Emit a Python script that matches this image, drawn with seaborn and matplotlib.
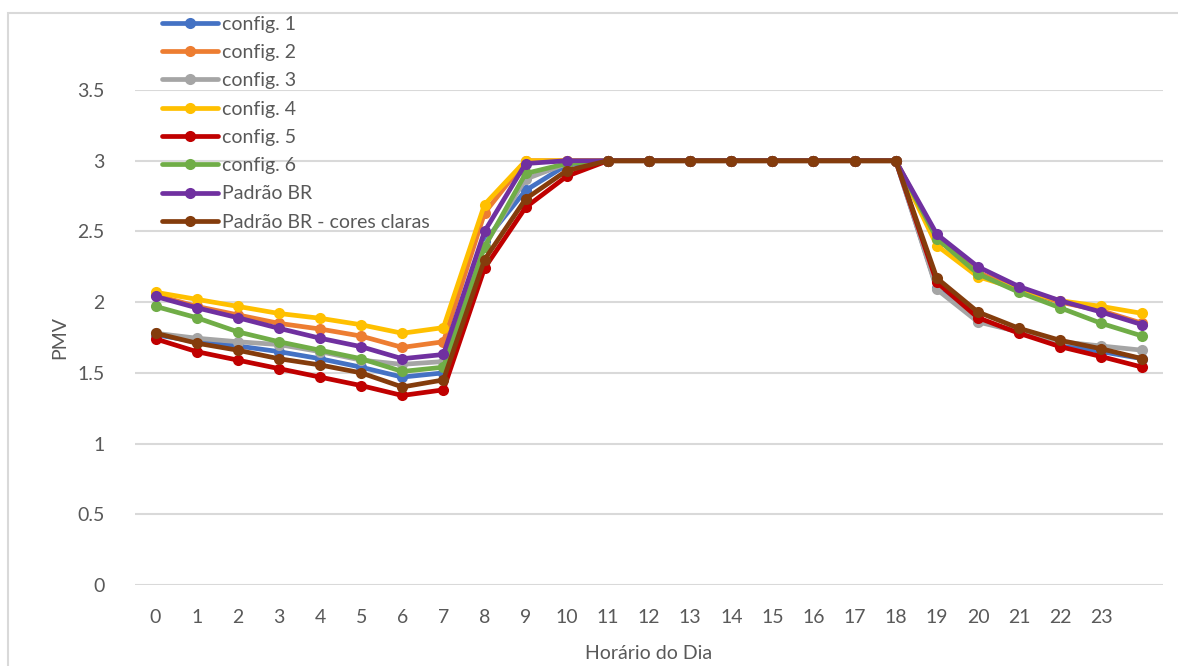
import matplotlib
matplotlib.use("Agg")
import matplotlib.pyplot as plt
from matplotlib.patches import Rectangle
from matplotlib.lines import Line2D
import seaborn as sns
import pandas as pd

hours = list(range(25))
tick_labels = [str(h) for h in range(24)] + [""]

series_names = ["config. 1", "config. 2", "config. 3", "config. 4", "config. 5",
                "config. 6", "Padrão BR", "Padrão BR - cores claras"]
colors = ["#4472C4", "#ED7D31", "#A5A5A5", "#FFC000", "#C00000",
          "#70AD47", "#7030A0", "#843C0C"]

config1 = [1.77, 1.72, 1.69, 1.65, 1.60, 1.54, 1.47, 1.50, 2.43, 2.79, 2.97, 3.0, 3.0, 3.0,
           3.0, 3.0, 3.0, 3.0, 3.0, 2.10, 1.87, 1.79, 1.70, 1.65, 1.60]
config2 = [2.05, 1.97, 1.91, 1.85, 1.81, 1.76, 1.68, 1.72, 2.63, 3.0, 3.0, 3.0, 3.0, 3.0,
           3.0, 3.0, 3.0, 3.0, 3.0, 2.45, 2.21, 2.09, 2.00, 1.94, 1.85]
config3 = [1.78, 1.745, 1.72, 1.70, 1.65, 1.59, 1.56, 1.58, 2.40, 2.87, 2.98, 3.0, 3.0, 3.0,
           3.0, 3.0, 3.0, 3.0, 3.0, 2.09, 1.86, 1.79, 1.72, 1.69, 1.66]
config4 = [2.07, 2.02, 1.97, 1.92, 1.886, 1.84, 1.78, 1.82, 2.69, 3.0, 3.0, 3.0, 3.0, 3.0,
           3.0, 3.0, 3.0, 3.0, 3.0, 2.40, 2.18, 2.09, 2.01, 1.97, 1.92]
config5 = [1.74, 1.65, 1.59, 1.53, 1.47, 1.41, 1.34, 1.38, 2.24, 2.67, 2.89, 3.0, 3.0, 3.0,
           3.0, 3.0, 3.0, 3.0, 3.0, 2.14, 1.89, 1.78, 1.685, 1.615, 1.54]
config6 = [1.97, 1.89, 1.79, 1.72, 1.66, 1.60, 1.51, 1.54, 2.39, 2.91, 2.98, 3.0, 3.0, 3.0,
           3.0, 3.0, 3.0, 3.0, 3.0, 2.45, 2.20, 2.07, 1.96, 1.85, 1.76]
padrao_br = [2.04, 1.96, 1.89, 1.815, 1.745, 1.685, 1.60, 1.63, 2.50, 2.98, 3.0, 3.0, 3.0, 3.0,
             3.0, 3.0, 3.0, 3.0, 3.0, 2.48, 2.25, 2.11, 2.01, 1.93, 1.84]
padrao_br_claras = [1.78, 1.71, 1.66, 1.60, 1.556, 1.50, 1.40, 1.45, 2.30, 2.73, 2.93, 3.0, 3.0, 3.0,
                    3.0, 3.0, 3.0, 3.0, 3.0, 2.17, 1.93, 1.815, 1.73, 1.67, 1.60]

all_series = [config1, config2, config3, config4, config5, config6, padrao_br, padrao_br_claras]

rows = []
for name, vals in zip(series_names, all_series):
    for h, v in zip(hours, vals):
        rows.append({"hora": h, "PMV": v, "serie": name})
df = pd.DataFrame(rows)

sns.set_theme(style="white")
plt.rcParams["font.family"] = ["Lato", "DejaVu Sans"]

fig = plt.figure(figsize=(11.78, 6.66), dpi=100)
ax = fig.add_axes([135 / 1178, 1 - 585 / 666, (1163 - 135) / 1178, (585 - 90) / 666])

grid_color = "#D9D9D9"
text_color = "#595959"
lw = 3.4
ms = 8

for yv in [0, 0.5, 1, 1.5, 2, 2.5, 3, 3.5]:
    ax.axhline(yv, color=grid_color, linewidth=1.5, zorder=0)

sns.lineplot(data=df, x="hora", y="PMV", hue="serie", hue_order=series_names,
             palette=dict(zip(series_names, colors)), marker="o", markersize=ms,
             markeredgewidth=0, linewidth=lw, ax=ax, legend=False, zorder=3)

ax.set_xlim(-0.5, 24.5)
ax.set_ylim(0, 3.5)
ax.set_xticks(hours)
ax.set_xticklabels(tick_labels)
ax.set_yticks([0, 0.5, 1, 1.5, 2, 2.5, 3, 3.5])
ax.set_yticklabels(["0", "0.5", "1", "1.5", "2", "2.5", "3", "3.5"])
ax.tick_params(axis="both", length=0, labelsize=14, colors=text_color)
ax.tick_params(axis="x", pad=17)
ax.tick_params(axis="y", pad=22)
for s in ax.spines.values():
    s.set_visible(False)
ax.set_xlabel("Horário do Dia", fontsize=14, color=text_color, labelpad=14)
ax.set_ylabel("PMV", fontsize=14, color=text_color, labelpad=6)

leg_handles = [Line2D([0], [0], color=c, linewidth=lw, marker="o", markersize=ms,
                      markeredgewidth=0) for c in colors]
leg = fig.legend(leg_handles, series_names, loc="upper left",
                 bbox_to_anchor=(152 / 1178, 1 - 6 / 666), frameon=False,
                 fontsize=14, handlelength=2.9, handletextpad=0.2,
                 labelspacing=0.58, borderpad=0.0)
for t in leg.get_texts():
    t.set_color(text_color)

fig.add_artist(Rectangle((8 / 1178, -0.1), 1.2, 1 - 13 / 666 + 0.1,
                         transform=fig.transFigure, fill=False,
                         edgecolor=grid_color, linewidth=1.5))

fig.savefig("out.png", dpi=100)
